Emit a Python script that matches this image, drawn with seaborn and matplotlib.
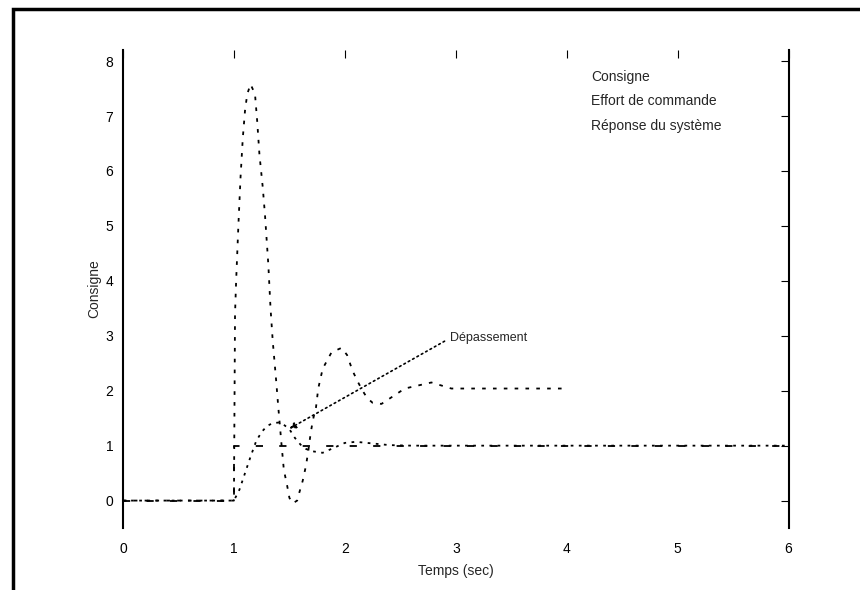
import matplotlib
matplotlib.use("Agg")
import matplotlib.pyplot as plt
from matplotlib.patches import Rectangle
import seaborn as sns

# Consigne : echelon a t = 1 s
t_consigne = [0.0, 1.0, 1.0, 6.0]
v_consigne = [0.0, 0.0, 1.0, 1.0]

# Effort de commande
t_effort = [0.0, 1.0, 1.01, 1.02, 1.04, 1.06, 1.08, 1.10, 1.12, 1.15, 1.19, 1.21,
            1.23, 1.26, 1.28, 1.31, 1.33, 1.35, 1.38, 1.40, 1.43, 1.45, 1.48, 1.50,
            1.53, 1.57, 1.59, 1.62, 1.65, 1.67, 1.69, 1.71, 1.74, 1.76, 1.80, 1.88,
            1.97, 2.02, 2.07, 2.12, 2.16, 2.20, 2.25, 2.33, 2.45, 2.54, 2.78, 2.96,
            3.30, 3.97]
v_effort = [0.0, 0.0, 3.4, 4.0, 5.0, 5.9, 6.6, 7.1, 7.4, 7.58, 7.4, 6.9,
            6.3, 5.7, 5.2, 4.3, 3.5, 2.9, 2.2, 1.7, 1.0, 0.56, 0.27, 0.05,
            -0.05, 0.0, 0.15, 0.36, 0.64, 0.9, 1.2, 1.45, 1.7, 2.04, 2.4, 2.7,
            2.78, 2.65, 2.36, 2.15, 2.0, 1.87, 1.78, 1.76, 1.92, 2.04, 2.15, 2.04,
            2.04, 2.04]

# Reponse du systeme
t_reponse = [0.0, 1.0, 1.05, 1.10, 1.15, 1.20, 1.25, 1.30, 1.35, 1.40, 1.45, 1.50,
             1.55, 1.60, 1.65, 1.70, 1.80, 1.90, 2.00, 2.10, 2.20, 2.40, 2.60, 6.0]
v_reponse = [0.0, 0.0, 0.2, 0.5, 0.8, 1.08, 1.25, 1.36, 1.41, 1.42, 1.38, 1.30,
             1.14, 1.02, 0.94, 0.90, 0.87, 0.96, 1.05, 1.07, 1.05, 1.01, 1.0, 1.0]

labels = ["Consigne", "Effort de commande", "Réponse du système"]
x_ticks = [0, 1, 2, 3, 4, 5, 6]
y_ticks = [0, 1, 2, 3, 4, 5, 6, 7, 8]

sns.set_style("white")
plt.rcParams["font.family"] = ["Liberation Sans", "DejaVu Sans"]
plt.rcParams["font.size"] = 10

fig = plt.figure(figsize=(8.6, 5.9), dpi=100)
ax = fig.add_axes([0.143, 0.105, 0.774, 0.81])

sns.lineplot(x=t_consigne, y=v_consigne, ax=ax, estimator=None, sort=False,
             color="black", lw=1.3, linestyle=(0, (4, 9)), label=labels[0])
sns.lineplot(x=t_effort, y=v_effort, ax=ax, estimator=None, sort=False,
             color="black", lw=1.3, linestyle=(0, (2, 4)), label=labels[1])
sns.lineplot(x=t_reponse, y=v_reponse, ax=ax, estimator=None, sort=False,
             color="black", lw=1.3, linestyle=(0, (1.5, 3)), label=labels[2])

ax.set_xlim(0, 6)
ax.set_ylim(-0.5, 8.2)
ax.set_xticks(x_ticks)
ax.set_yticks(y_ticks)
ax.tick_params(direction="in", length=6, top=True, right=True, colors="black")
ax.tick_params(axis="x", pad=10)
ax.tick_params(axis="y", pad=7)
for side in ["top", "bottom"]:
    ax.spines[side].set_visible(False)
for side in ["left", "right"]:
    ax.spines[side].set_color("black")
    ax.spines[side].set_linewidth(1.5)

ax.set_xlabel("Temps (sec)", labelpad=6)
ax.set_ylabel("Consigne", labelpad=3)

# fleche partant de la gauche du texte
ax.annotate("Dépassement", xy=(1.5, 1.31), xytext=(2.95, 2.96),
            ha="left", va="center", fontsize=9,
            arrowprops=dict(arrowstyle="-|>", color="black", lw=1.2,
                            linestyle=(0, (1, 2)), shrinkA=2, shrinkB=0,
                            relpos=(0.0, 0.5)))

leg = ax.legend(loc="upper left", bbox_to_anchor=(0.685, 0.985), frameon=False,
                handlelength=0, handletextpad=0, labelspacing=0.75)

# cadre exterieur de la figure
fig.patches.append(Rectangle((0.015, -0.1), 1.2, 1.085, transform=fig.transFigure,
                             fill=False, lw=2.5, edgecolor="black"))

fig.savefig("out.png", dpi=100)
